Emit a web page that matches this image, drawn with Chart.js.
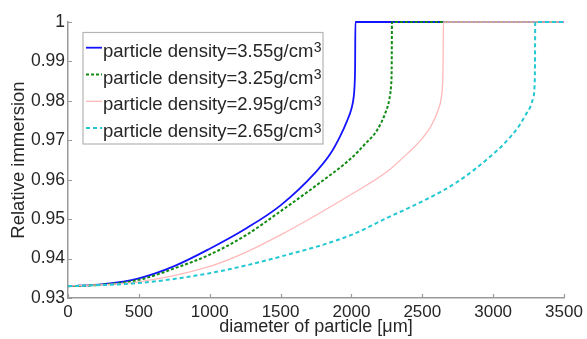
<!DOCTYPE html>
<html lang="en">
<head>
    <meta charset="UTF-8">
    <title>Relative immersion vs diameter</title>
    <script src="https://cdn.jsdelivr.net/npm/chart.js"></script>
    <style>
        html, body { margin: 0; padding: 0; background: #fff; }
        #wrap { width: 587px; height: 339px; }
    </style>
</head>
<body>
    <div id="wrap"><canvas id="immersionChart"></canvas></div>
    <script>
        // diameter [um] and relative immersion per density
        const d355 = [0, 250, 500, 750, 1000, 1250, 1500, 1750, 1850, 1920, 1970, 2000, 2016, 2023, 2026, 2028, 3500];
        const r355 = [0.933, 0.9335, 0.935, 0.9381, 0.9425, 0.9475, 0.9535, 0.962, 0.9665, 0.971, 0.975, 0.978, 0.981, 0.9845, 0.989, 1, 1];

        const d325 = [0, 250, 500, 750, 1000, 1250, 1500, 1750, 2000, 2100, 2180, 2240, 2268, 2280, 2284, 2286, 3500];
        const r325 = [0.933, 0.9334, 0.9346, 0.9375, 0.941, 0.9458, 0.952, 0.9585, 0.9655, 0.9692, 0.9725, 0.977, 0.9805, 0.984, 0.988, 1, 1];

        const d295 = [0, 500, 1000, 1250, 1500, 1750, 2000, 2250, 2400, 2500, 2560, 2610, 2635, 2644, 2647, 2649, 3500];
        const r295 = [0.933, 0.9341, 0.938, 0.9415, 0.946, 0.951, 0.9563, 0.962, 0.9668, 0.9705, 0.9735, 0.9775, 0.981, 0.985, 0.99, 1, 1];

        const d265 = [0, 500, 1000, 1500, 2000, 2250, 2500, 2750, 3000, 3100, 3180, 3230, 3262, 3282, 3292, 3295, 3297, 3500];
        const r265 = [0.933, 0.9338, 0.9363, 0.9405, 0.946, 0.9503, 0.9545, 0.9595, 0.9665, 0.970, 0.9735, 0.9765, 0.9785, 0.9808, 0.9835, 0.988, 1, 1];

        const densities = ['3.55', '3.25', '2.95', '2.65'];
        const xTicks = [0, 500, 1000, 1500, 2000, 2500, 3000, 3500];
        const yTicks = [0.93, 0.94, 0.95, 0.96, 0.97, 0.98, 0.99, 1];

        const colors = ['#1414ff', '#118a11', '#ffb9b9', '#22c8d2'];
        const widths = [1.8, 2, 1.3, 2];
        const dashes = [[], [3, 2], [], [4, 3]];

        function pts(xs, ys) {
            return xs.map((x, i) => ({ x: x, y: ys[i] }));
        }

        const series = [pts(d355, r355), pts(d325, r325), pts(d295, r295), pts(d265, r265)];

        const datasets = series.map((s, i) => ({
            label: 'particle density=' + densities[i] + 'g/cm3',
            data: s,
            borderColor: colors[i],
            borderWidth: widths[i],
            borderDash: dashes[i],
            pointRadius: 0,
            cubicInterpolationMode: 'monotone',
            clip: false,
            order: 4 - i // blue drawn first, cyan last
        }));

        const axisColor = '#9a9a9a';
        const textColor = '#262626';

        // small ticks pointing into the plot, like the original
        const innerTicks = {
            id: 'innerTicks',
            afterDatasetsDraw(chart) {
                const { ctx, chartArea, scales } = chart;
                ctx.save();
                ctx.strokeStyle = axisColor;
                ctx.lineWidth = 1.2;
                ctx.beginPath();
                xTicks.forEach(v => {
                    const px = Math.round(scales.x.getPixelForValue(v)) + 0.5;
                    ctx.moveTo(px, chartArea.bottom);
                    ctx.lineTo(px, chartArea.bottom - 4);
                });
                yTicks.forEach(v => {
                    const py = Math.round(scales.y.getPixelForValue(v)) + 0.5;
                    ctx.moveTo(chartArea.left, py);
                    ctx.lineTo(chartArea.left + 4, py);
                });
                ctx.stroke();
                ctx.restore();
            }
        };

        // boxed legend inside the axes, with superscript 3
        const boxLegend = {
            id: 'boxLegend',
            afterDraw(chart) {
                const ctx = chart.ctx;
                const bx = 83, by = 32.5, bw = 240, bh = 111.5;
                ctx.save();
                ctx.fillStyle = '#fff';
                ctx.fillRect(bx, by, bw, bh);
                ctx.strokeStyle = '#b4b4b4';
                ctx.lineWidth = 1.2;
                ctx.strokeRect(bx, by, bw, bh);
                chart.data.datasets.forEach((ds, i) => {
                    const ly = 47.7 + i * 26.8;
                    ctx.strokeStyle = ds.borderColor;
                    ctx.lineWidth = ds.borderWidth;
                    ctx.setLineDash(ds.borderDash);
                    ctx.beginPath();
                    ctx.moveTo(86, ly);
                    ctx.lineTo(102, ly);
                    ctx.stroke();
                    ctx.setLineDash([]);
                    const main = 'particle density=' + densities[i] + 'g/cm';
                    ctx.fillStyle = textColor;
                    ctx.textBaseline = 'alphabetic';
                    ctx.font = '18.5px "Liberation Sans", Arial, sans-serif';
                    ctx.fillText(main, 103, ly + 9);
                    const w = ctx.measureText(main).width;
                    ctx.font = '14px "Liberation Sans", Arial, sans-serif';
                    ctx.fillText('3', 103 + w + 0.5, ly + 4.5);
                });
                ctx.restore();
            }
        };

        const ctx = document.getElementById('immersionChart').getContext('2d');
        const immersionChart = new Chart(ctx, {
            type: 'line',
            data: { datasets: datasets },
            plugins: [innerTicks, boxLegend],
            options: {
                responsive: true,
                maintainAspectRatio: false,
                animation: false,
                layout: { padding: { left: 0, right: 23, top: 22, bottom: 0 } },
                plugins: {
                    legend: { display: false },
                    tooltip: { enabled: false }
                },
                scales: {
                    x: {
                        type: 'linear',
                        min: 0,
                        max: 3500,
                        afterBuildTicks: scale => { scale.ticks = xTicks.map(v => ({ value: v })); },
                        afterFit: scale => { scale.height = 41; },
                        grid: { display: false, drawTicks: false },
                        border: { display: true, color: axisColor, width: 1.5 },
                        ticks: {
                            padding: 4,
                            color: textColor,
                            font: { family: '"Liberation Sans", Arial, sans-serif', size: 17 },
                            maxRotation: 0,
                            callback: v => String(v)
                        },
                        title: {
                            display: true,
                            text: 'diameter of particle [\u03bcm]',
                            color: textColor,
                            padding: { top: 0, bottom: 1 },
                            font: { family: '"Liberation Sans", Arial, sans-serif', size: 18 }
                        }
                    },
                    y: {
                        min: 0.93,
                        max: 1,
                        afterBuildTicks: scale => { scale.ticks = yTicks.map(v => ({ value: v })); },
                        afterFit: scale => { scale.width = 68; },
                        grid: { display: false, drawTicks: false },
                        border: { display: true, color: axisColor, width: 1.5 },
                        ticks: {
                            padding: 3,
                            color: textColor,
                            font: { family: '"Liberation Sans", Arial, sans-serif', size: 17.5 },
                            callback: v => String(+v.toFixed(2))
                        },
                        title: {
                            display: true,
                            text: 'Relative immersion',
                            color: textColor,
                            padding: { top: 8, bottom: 0 },
                            font: { family: '"Liberation Sans", Arial, sans-serif', size: 18.5 }
                        }
                    }
                }
            }
        });
    </script>
</body>
</html>
